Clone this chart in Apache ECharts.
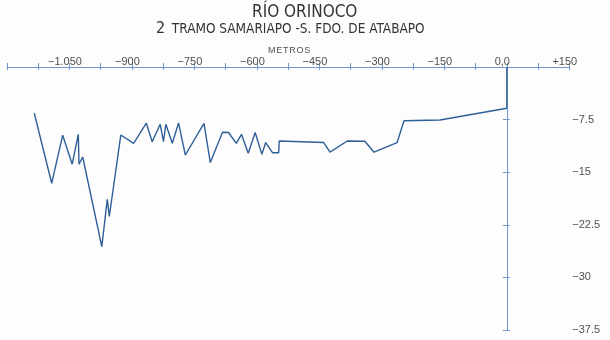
<!DOCTYPE html>
<html>
<head>
<meta charset="utf-8">
<script src="https://cdn.jsdelivr.net/npm/echarts@6/dist/echarts.min.js"></script>
<style>
html,body{margin:0;padding:0;background:#fdfdfd;}
#chart{width:610px;height:340px;}
</style>
</head>
<body>
<div id="chart"></div>
<script>
// Distance along the reach (metres) and depth (metres)
const distances = [-1134.5,-1092.7,-1066.3,-1043.5,-1028.8,-1027.1,-1018.2,-972.4,-959.2,-954.4,-926.8,-896.0,-865.5,-851.4,-832.2,-824.3,-818.7,-803.1,-788.2,-771.9,-727.0,-711.9,-682.6,-668.2,-649.5,-637.0,-620.9,-604.1,-588.2,-578.9,-562.1,-547.7,-546.5,-439.6,-424.5,-383.0,-340.9,-318.8,-263.6,-246.8,-160.4,0,0];
const depths = [-6.60,-16.58,-9.72,-13.86,-9.60,-13.86,-12.83,-25.62,-18.86,-21.32,-9.70,-10.88,-8.01,-10.67,-8.17,-10.65,-8.17,-10.87,-7.98,-12.55,-8.03,-13.62,-9.30,-9.34,-10.88,-9.60,-12.29,-9.34,-12.43,-10.77,-12.23,-12.23,-10.55,-10.77,-12.15,-10.55,-10.59,-12.15,-10.79,-7.66,-7.56,-5.89,0];
const xTickLabels = {'-1050':'−1.050','-900':'−900','-750':'−750','-600':'−600','-450':'−450','-300':'−300','-150':'−150','0':'0,0','150':'+150'};
const yTickLabels = {'-7.5':'−7.5','-15':'−15','-22.5':'−22.5','-30':'−30','-37.5':'−37.5'};
const titleText = 'RÍO ORINOCO';
const subtitleNumber = '2';
const subtitleText = 'TRAMO SAMARIAPO -S. FDO. DE ATABAPO';
const axisName = 'M\u200aE\u200aT\u200aR\u200aO\u200aS';

const AXIS = '#6d9bcb';
const LINE = '#2f5f98';
const TXT = '#505050';
const NARROW = "'Liberation Sans Narrow','DejaVu Sans Condensed',sans-serif";
const SANS = "'Liberation Sans',Arial,sans-serif";

const data = distances.map((d, i) => [d, depths[i]]);
const chart = echarts.init(document.getElementById('chart'));
function xAx(show, inside) {
  return {
    type: 'value', position: 'top', min: -1200, max: 150, interval: 75,
    axisLine: {show: show, lineStyle: {color: AXIS, width: 1}},
    axisTick: {show: true, inside: inside, length: inside ? 3 : 4, lineStyle: {color: AXIS, width: 1}},
    axisLabel: show ? {show: true, margin: 0, fontFamily: SANS, fontSize: 11, color: TXT, padding: [0, 9, 0, 0],
      formatter: v => xTickLabels[String(v)] || ''} : {show: false},
    splitLine: {show: false}
  };
}
function yAx(show, inside) {
  return {
    type: 'value', position: 'right', min: -37.5, max: 0, interval: 7.5,
    axisLine: {show: show, lineStyle: {color: AXIS, width: 1}},
    axisTick: {show: true, inside: inside, length: inside ? 4 : 3, lineStyle: {color: AXIS, width: 1}},
    axisLabel: show ? {show: true, margin: 3, fontFamily: SANS, fontSize: 11, color: TXT,
      formatter: v => yTickLabels[String(v)] || ''} : {show: false},
    splitLine: {show: false}
  };
}
chart.setOption({
  backgroundColor: '#fdfdfd',
  animation: false,
  grid: {left: 7, top: 67, width: 562.3, height: 263, containLabel: false},
  xAxis: [xAx(true, false), xAx(false, true)],
  yAxis: [yAx(true, false), yAx(false, true)],
  graphic: [
    {type: 'text', left: 252, top: 4, style: {text: titleText, fontFamily: NARROW, fontSize: 17, fill: '#333'}},
    {type: 'text', left: 156, top: 21, style: {text: '{a|' + subtitleNumber + '}  {b|' + subtitleText + '}', rich: {
      a: {fontFamily: NARROW, fontSize: 16, fill: '#333', color: '#333'},
      b: {fontFamily: NARROW, fontSize: 13.5, fill: '#333', color: '#333'}}}},
    {type: 'text', left: 268, top: 46, style: {text: axisName, fontFamily: SANS, fontSize: 9, fill: TXT}}
  ],
  series: [{
    type: 'line', data: data, xAxisIndex: 0, yAxisIndex: 0,
    symbol: 'none', lineStyle: {color: LINE, width: 1.4}
  }]
});
</script>
</body>
</html>
